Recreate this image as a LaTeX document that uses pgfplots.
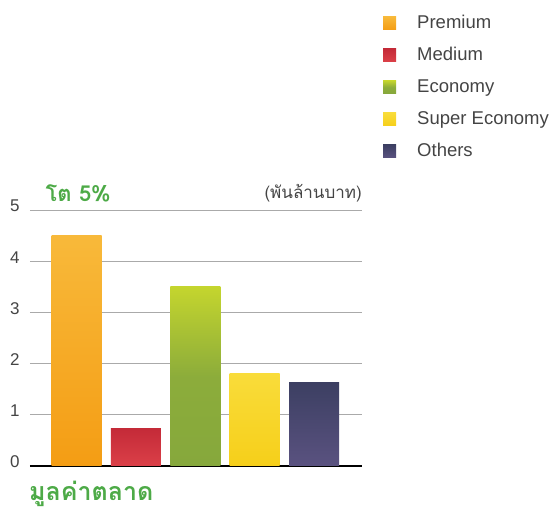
\documentclass[border=0pt]{standalone}
\usepackage{pgfplots}
\pgfplotsset{compat=1.18}
\usepackage{fontspec}
\setmainfont{Liberation Sans}
\newfontfamily\thaifont[Script=Thai]{Loma}
\definecolor{txtgray}{HTML}{444444}
\definecolor{thgreen}{HTML}{4DAA47}
\definecolor{gridgray}{HTML}{AAAAAA}
\definecolor{premA}{HTML}{F8B93A}
\definecolor{premB}{HTML}{F49D14}
\definecolor{medA}{HTML}{C42A38}
\definecolor{medB}{HTML}{DB4048}
\definecolor{ecoA}{HTML}{C4D52E}
\definecolor{ecoB}{HTML}{86A83C}
\definecolor{supA}{HTML}{F9DC3A}
\definecolor{supB}{HTML}{F6CF1A}
\definecolor{othA}{HTML}{3C3F62}
\definecolor{othB}{HTML}{5A5280}
\pgfplotsset{
  sqlegend/.style={legend image code/.code={\fill[##1,draw=none] (0bp,-6bp) rectangle (13bp,7bp);}},
  mybar/.style={ybar, bar width=50bp, bar shift=0pt, draw=none, sqlegend}
}
\begin{document}
\begin{tikzpicture}
\useasboundingbox (0bp,0bp) rectangle (551bp,512bp);
\begin{axis}[
  at={(30bp,46bp)}, anchor=south west,
  scale only axis, width=332bp, height=256bp,
  xmin=-0.783, xmax=4.806, ymin=0, ymax=5,
  axis x line=bottom, axis y line=left,
  x axis line style={line width=2bp, black, -},
  y axis line style={draw=none},
  xtick=\empty, ytick={0,1,2,3,4,5},
  major tick length=0pt,
  ymajorgrids, grid style={gridgray, line width=0.9bp},
  /pgf/number format/assume math mode=true,
  yticklabel style={font=\fontsize{17bp}{19bp}\selectfont, text=txtgray, anchor=east, xshift=-7bp, yshift=4bp},
  legend style={at={(1.0633,1.7617)}, anchor=north west, draw=none, fill=none,
    inner sep=0pt, row sep=15bp,
    font=\fontsize{18.5bp}{21bp}\selectfont, text=txtgray,
    nodes={inner sep=0pt, text height=13bp, text depth=4bp, anchor=west},
    /tikz/every odd column/.style={column sep=21bp}},
  legend cell align=left,
  clip=false,
]
\addplot[mybar, top color=premA, bottom color=premB] coordinates {(0,4.5)};
\addlegendentry{Premium}
\addplot[mybar, top color=medA, bottom color=medB] coordinates {(1,0.74)};
\addlegendentry{Medium}
\addplot[mybar, top color=ecoA, bottom color=ecoB, middle color=ecoB!90!ecoA] coordinates {(2,3.5)};
\addlegendentry{Economy}
\addplot[mybar, top color=supA, bottom color=supB] coordinates {(3,1.81)};
\addlegendentry{Super Economy}
\addplot[mybar, top color=othA, bottom color=othB] coordinates {(4,1.64)};
\addlegendentry{Others}
\end{axis}
\node[anchor=west, text=thgreen, font=\thaifont\bfseries\fontsize{22bp}{24bp}\selectfont] at (42bp,319bp) {โต 5\%};
\node[anchor=east, text=txtgray, font=\thaifont\fontsize{17bp}{20bp}\selectfont, inner sep=0pt] at (362bp,319bp) {(พันล้านบาท)};
\node[anchor=west, text=thgreen, font=\thaifont\bfseries\fontsize{25bp}{28bp}\selectfont, inner sep=0pt] at (29bp,18bp) {มูลค่าตลาด};
\end{tikzpicture}
\end{document}
